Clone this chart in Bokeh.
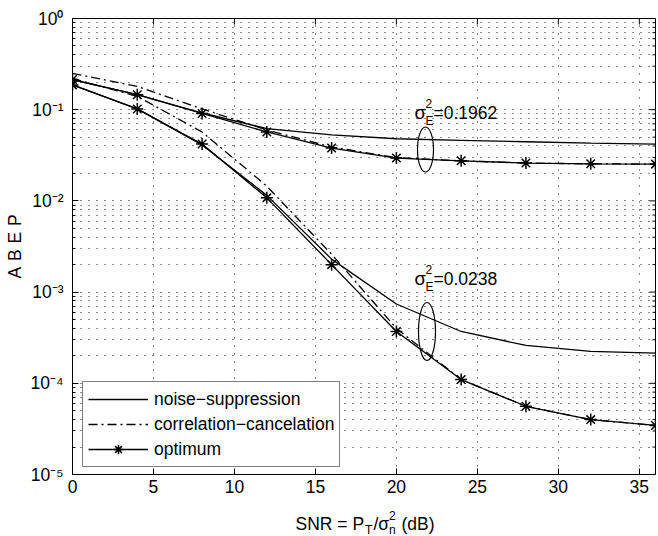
import math
from bokeh.plotting import figure
from bokeh.layouts import column
from bokeh.models import FixedTicker, Legend, LegendItem, Label, Range1d
from bokeh.core.properties import value
from bokeh.embed import file_html
from bokeh.resources import INLINE

# ---------------- data ----------------
snr = [0, 4, 8, 12, 16, 20, 24, 28, 32, 36]
# sigma_E^2 = 0.1962
ns_hi = [0.212, 0.146, 0.092, 0.062, 0.053, 0.048, 0.046, 0.0445, 0.043, 0.042]
cc_hi = [0.25, 0.18, 0.102, 0.060, 0.039, 0.0298, 0.0275, 0.026, 0.0255, 0.0253]
op_hi = [0.214, 0.146, 0.091, 0.057, 0.038, 0.0295, 0.0275, 0.026, 0.0255, 0.0253]
# sigma_E^2 = 0.0238
ns_lo = [0.187, 0.102, 0.041, 0.0115, 0.0023, 7.4e-4, 3.7e-4, 2.6e-4, 2.24e-4, 2.14e-4]
cc_lo = [0.22, 0.14, 0.057, 0.0145, 0.0026, 4.0e-4, 1.1e-4, 5.6e-5, 4.0e-5, 3.45e-5]
op_lo = [0.187, 0.102, 0.042, 0.0108, 0.0020, 3.7e-4, 1.1e-4, 5.6e-5, 4.0e-5, 3.45e-5]

x_ticks = [0, 5, 10, 15, 20, 25, 30, 35]
y_exps = [0, -1, -2, -3, -4, -5]
y_tick_labels = ["10\u2070", "10\u207b\u00b9", "10\u207b\u00b2", "10\u207b\u00b3",
                 "10\u207b\u2074", "10\u207b\u2075"]

FONT = "Liberation Sans"
FS = "17.5px"
FS_SMALL = "12px"

# geometry (image pixel coords)
FL, FR, FT, FB = 72.0, 655.0, 18.0, 474.0
W = 657
H_MAIN = 501          # main figure height
H_LAB = 34            # strip below holding the x-axis title
XMIN, XMAX = 0.0, 36.0
YLOGMIN, YLOGMAX = -5.0, 0.0


def px2x(px):
    return XMIN + (px - FL) / (FR - FL) * (XMAX - XMIN)


def py2y(py):
    return 10 ** (YLOGMAX - (py - FT) / (FB - FT) * (YLOGMAX - YLOGMIN))


p = figure(width=W, height=H_MAIN, x_range=(XMIN, XMAX), y_range=(1e-5, 1),
           y_axis_type="log", output_backend="svg", toolbar_location=None,
           min_border_left=int(FL), min_border_right=int(W - FR),
           min_border_top=int(FT), min_border_bottom=int(H_MAIN - FB))
p.background_fill_color = "white"
p.border_fill_color = "white"
p.outline_line_color = "black"
p.outline_line_width = 1

minors = []
for e in range(-5, 0):
    for k in range(2, 10):
        minors.append(k * 10.0 ** e)
decades = [10.0 ** e for e in y_exps]

xt = FixedTicker(ticks=x_ticks, minor_ticks=[])
yt = FixedTicker(ticks=decades, minor_ticks=minors)

for ax in (p.xaxis[0], p.yaxis[0]):
    ax.axis_line_color = "black"
    ax.major_tick_line_color = "black"
    ax.minor_tick_line_color = "black"
    ax.major_tick_in = 6
    ax.major_tick_out = 0
    ax.minor_tick_in = 3
    ax.minor_tick_out = 0
    ax.major_label_text_font = FONT
    ax.major_label_text_font_size = FS
    ax.major_label_text_color = "black"
    ax.axis_label_text_font = FONT
    ax.axis_label_text_font_size = FS
    ax.axis_label_text_font_style = "normal"
    ax.axis_label_text_color = "black"

p.xaxis.ticker = xt
p.xaxis.major_label_standoff = 5
p.xaxis.axis_label = None
p.yaxis.ticker = yt
p.yaxis.major_label_overrides = {d: t for d, t in zip(decades, y_tick_labels)}
p.yaxis.major_label_standoff = 9
p.yaxis.axis_label = "A\u2004B\u2004E\u2004P"
p.yaxis.axis_label_standoff = 3

# grid (MATLAB-like dotted)
p.xgrid.ticker = xt
p.ygrid.ticker = yt
for g in (p.xgrid[0], p.ygrid[0]):
    g.grid_line_color = "black"
    g.grid_line_dash = "1 7"
    g.grid_line_width = 1
    g.grid_line_alpha = 0.9
p.ygrid[0].minor_grid_line_color = "black"
p.ygrid[0].minor_grid_line_dash = "1 7"
p.ygrid[0].minor_grid_line_alpha = 0.9

# inward ticks on top and right edges of the box
p.ray(x=x_ticks, y=[1.0] * len(x_ticks), length=6, length_units="screen",
      angle=-math.pi / 2, line_color="black", line_width=1)
p.ray(x=[XMAX] * len(decades), y=decades, length=6, length_units="screen",
      angle=math.pi, line_color="black", line_width=1)
p.ray(x=[XMAX] * len(minors), y=minors, length=3, length_units="screen",
      angle=math.pi, line_color="black", line_width=1)

LW = 1.3
DD = "9 4 2 4"
r_ns = p.line(snr, ns_hi, line_color="black", line_width=LW)
p.line(snr, ns_lo, line_color="black", line_width=LW)
r_cc = p.line(snr, cc_hi, line_color="black", line_width=LW, line_dash=DD)
p.line(snr, cc_lo, line_color="black", line_width=LW, line_dash=DD)
r_op = p.line(snr, op_hi, line_color="black", line_width=LW)
p.line(snr, op_lo, line_color="black", line_width=LW)
r_st = p.scatter(snr, op_hi, marker="asterisk", size=12, line_color="black", line_width=1.5)
p.scatter(snr, op_lo, marker="asterisk", size=12, line_color="black", line_width=1.5)

legend = Legend(items=[
    LegendItem(label="noise\u2212suppression", renderers=[r_ns]),
    LegendItem(label="correlation\u2212cancelation", renderers=[r_cc]),
    LegendItem(label="optimum", renderers=[r_op, r_st]),
], location=(10, 7))
legend.label_text_font = FONT
legend.label_text_font_size = FS
legend.label_text_color = "black"
legend.glyph_width = 60
legend.glyph_height = 24
legend.label_height = 24
legend.label_standoff = 6
legend.spacing = 1
legend.padding = 5
legend.margin = 0
legend.border_line_color = "black"
legend.border_line_width = 1
legend.background_fill_alpha = 1.0
p.add_layout(legend, "center")

# ellipses marking the curve groups
p.ellipse(x=[px2x(425)], y=[py2y(149)], width=16, height=45,
          width_units="screen", height_units="screen",
          fill_color=None, line_color="black", line_width=1.2)
p.ellipse(x=[px2x(426.5)], y=[py2y(331)], width=17, height=58,
          width_units="screen", height_units="screen",
          fill_color=None, line_color="black", line_width=1.2)


def lab(text, px, py, size=FS, align="left", baseline="alphabetic"):
    p.add_layout(Label(x=px2x(px), y=py2y(py), text=text, text_font=FONT,
                       text_font_size=size, text_color="black", text_align=align,
                       text_baseline=baseline))


# sigma annotations
for base, val in ((112, "=0.1962"), (278, "=0.0238")):
    lab("\u03c3", 414, base, size="18.5px")
    lab("2", 425, base - 9, size=FS_SMALL)
    lab("E", 425, base + 8, size=FS_SMALL)
    lab(val, 433, base)

# ---- strip below the main figure with the x-axis title ----
# (its frame is aligned with the main frame, so x data == image pixel x)
TOP_LAB = H_MAIN   # image y of strip's top edge
q = figure(width=W, height=H_LAB, x_range=Range1d(FL, FR), y_range=Range1d(0, H_LAB),
           output_backend="svg", toolbar_location=None,
           x_axis_location=None, y_axis_location=None,
           min_border_left=int(FL), min_border_right=int(W - FR),
           min_border_top=0, min_border_bottom=0, outline_line_color=None)
q.xgrid.visible = False
q.ygrid.visible = False
q.background_fill_color = "white"
q.border_fill_color = "white"

# pieces of: SNR = P_T / sigma_n^2 (dB)
title_parts = ["SNR = P", "T", "/\u03c3", "2", "n", "(dB)"]
part_px = [295, 364.5, 373, 388.5, 388.5, 401]
part_py = [523, 529, 523, 515, 529, 523]
part_fs = [FS, FS_SMALL, FS, FS_SMALL, FS_SMALL, FS]
for t, px, py, fs in zip(title_parts, part_px, part_py, part_fs):
    q.text(x=[px], y=[TOP_LAB + H_LAB - py], text=[t], text_font=value(FONT),
           text_font_size=value(fs), text_color="black", text_align="left",
           text_baseline="alphabetic")

open("out.html", "w").write(file_html(column(p, q, spacing=0), INLINE))
